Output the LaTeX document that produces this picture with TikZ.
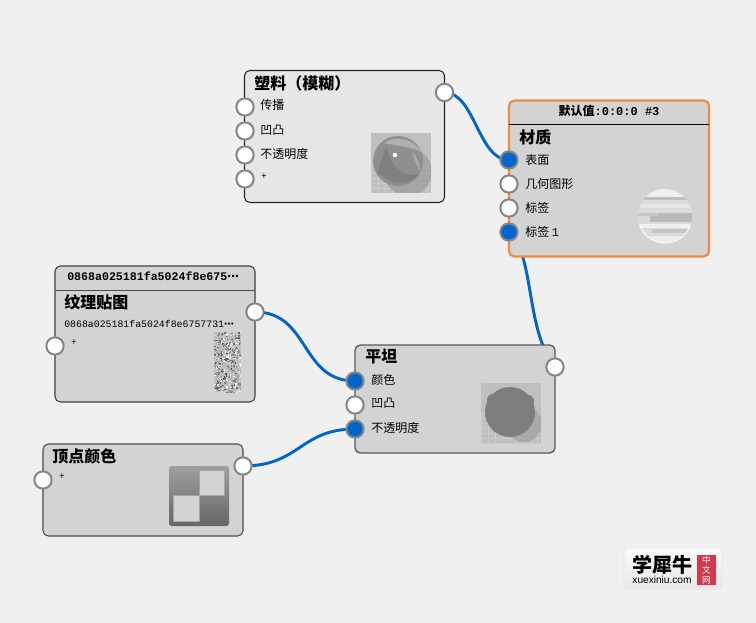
\documentclass[tikz,border=0pt]{standalone}
\usepackage{fontspec}
\setmainfont{Noto Sans CJK SC}
\newfontfamily\hdmono[BoldFont=Liberation Mono Bold]{Liberation Mono}
\newfontfamily\latsans{Liberation Sans}
\newfontfamily\dotsfont{DejaVu Sans}
\usetikzlibrary{backgrounds}
\pgfdeclarelayer{wires}
\pgfdeclarelayer{canvas}
\pgfsetlayers{canvas,wires,main}
\definecolor{wireblue}{HTML}{0066CC}
\definecolor{cardfill}{HTML}{D3D3D3}
\definecolor{cardlight}{HTML}{E6E6E6}
\definecolor{pagebg}{HTML}{F0F0F0}
\definecolor{accent}{HTML}{F08A3C}
\definecolor{logored}{HTML}{D2394D}
\definecolor{ringgray}{HTML}{858585}
\tikzset{
  card/.style={draw=#1,line width=0.8pt,fill=cardfill,rounded corners=4pt,inner sep=0pt},
  port/.style={circle,draw=ringgray,line width=1.5pt,fill=white,minimum size=13pt,inner sep=0pt},
  liveport/.style={port,fill=wireblue},
  title/.style={anchor=west,inner sep=0pt,font=\bfseries\fontsize{12}{12}\selectfont},
  lab/.style={anchor=west,inner sep=0pt,font=\fontsize{9}{9}\selectfont},
  head/.style={anchor=west,inner sep=0pt,font=\hdmono\bfseries\fontsize{8.7}{10}\selectfont},
  body/.style={anchor=west,inner sep=0pt,font=\hdmono\fontsize{7.4}{9}\selectfont},
  wire/.style={draw=wireblue,line width=2.2pt},
}
\newcommand{\mydots}{{\dotsfont\bfseries ⋯}}
\newcommand{\tilefloor}[4]{%
  \fill[gray!50] (#1,#2) rectangle (#3,#4);
  \foreach \yy in {30,35,...,60} \draw[gray!40,line width=.25pt] (#1,#2+\yy) -- (#3,#2+\yy);
  \foreach \xx in {0,7,...,60} \draw[gray!40,line width=.25pt] (#1+\xx,#2+30) -- (#1+\xx,#4);
}
\begin{document}
\begin{tikzpicture}[x=0.75pt,y=-0.75pt]
\useasboundingbox (0,0) rectangle (756,623);
\begin{pgfonlayer}{canvas}
\fill[pagebg] (0,0) rectangle (756,623);
\end{pgfonlayer}

% cards
\node[card=black!85,fill=cardlight,minimum width=150pt,minimum height=99pt] (plastic) at (344.5,136.5) {};
\node[card=accent,line width=1.6pt,minimum width=150pt,minimum height=117pt] (material) at (609,178.5) {};
\node[card=black!75,minimum width=150pt,minimum height=102pt] (texture) at (155,334) {};
\node[card=black!65,line width=1pt,minimum width=150pt,minimum height=81pt] (flat) at (455,399) {};
\node[card=black!70,minimum width=150pt,minimum height=69pt] (vertex) at (143,490) {};

% headers
\draw[black,line width=.6pt] (509,124) -- (709,124);
\draw[black!70,line width=.6pt] (55,290) -- (255,290);
\node[inner sep=0pt,font=\bfseries\fontsize{9}{10}\selectfont] (mathead) at (609,110.5) {默认值{\hdmono :0:0:0 \#3}};
\node[head] (texhead) at (67,276.5) {0868a025181fa5024f8e675\mydots};

% titles
\node[title] (t1) at (254,83) {塑料（模糊）};
\node[title] (t2) at (519,137.5) {材质};
\node[title] (t3) at (64,302.5) {纹理贴图};
\node[title] (t4) at (365,357) {平坦};
\node[title] (t5) at (52,456) {顶点颜色};

% labels
\node[lab] (l1) at (260,105) {传播};
\node[lab] (l2) at (260,130) {凹凸};
\node[lab] (l3) at (260,154) {不透明度};
\node[lab,font=\fontsize{7}{9}\selectfont] (l4) at (261,177) {+};
\node[lab] (l5) at (525,159.5) {表面};
\node[lab] (l6) at (525,183.5) {几何图形};
\node[lab] (l7) at (525,207.5) {标签};
\node[lab] (l8) at (525,231.5) {标签 {\hdmono 1}};
\node[body] (l9) at (64,324) {0868a025181fa5024f8e6757731\mydots};
\node[lab,font=\fontsize{7}{9}\selectfont] (l10) at (71,343) {+};
\node[lab] (l11) at (371,380) {颜色};
\node[lab] (l12) at (371,403.5) {凹凸};
\node[lab] (l13) at (371,427.5) {不透明度};
\node[lab,font=\fontsize{7}{9}\selectfont] (l14) at (59,477) {+};

% thumbnails
\begin{scope}
\clip (371,133) rectangle (431,193);
\tilefloor{371}{133}{431}{193}
\fill[gray!85,opacity=.6] (408,172) circle (24);
\fill[gray!105!white,gray!88] (398,161) circle (25);
\fill[gray!105,gray] (378,172) .. controls (390,186) and (408,186) .. (420,174) .. controls (405,178) and (392,170) .. (386,146) -- cycle;
\fill[gray!62] (384,143) .. controls (398,134) and (414,140) .. (421,152) .. controls (410,146) and (396,146) .. (384,143) -- cycle;
\fill[gray!65] (412,152) .. controls (418,158) and (420,164) .. (420,172) .. controls (417,166) and (414,158) .. (412,152) -- cycle;
\fill[white] (395,155) circle (2.2);
\end{scope}

\fill[gray!28] (665,216) circle (27);
\begin{scope}
\clip (665,216) circle (27);
\fill[gray!12] (638,189) rectangle (692,197);
\fill[gray!50] (642,197) rectangle (692,200);
\fill[gray!20] (640,204) rectangle (692,208);
\fill[gray!55] (650,213) rectangle (692,222);
\fill[gray!45] (638,213) rectangle (658,216);
\fill[gray!12] (638,224) rectangle (692,228);
\fill[gray!45] (652,229) rectangle (692,233);
\fill[gray!15] (638,236) rectangle (692,243);
\end{scope}
\draw[white,line width=.7pt] (665,216) ++(160:27) arc (160:20:27);

\begin{scope}
\clip (214,332) rectangle (241,392);
\fill[gray!50] (214,332) rectangle (241,392);
\pgfmathsetseed{7}
\foreach \i in {1,...,480} {
  \pgfmathsetmacro{\rx}{214+27*rnd}
  \pgfmathsetmacro{\ry}{332+60*rnd}
  \pgfmathsetmacro{\rc}{int(70*rnd)}
  \fill[black!\rc!white] (\rx,\ry) rectangle ++(1.5,1.5);
}
\end{scope}

\begin{scope}
\clip (481,383) rectangle (541,443);
\tilefloor{481}{383}{541}{443}
\fill[gray!75,opacity=.7] (524,424) circle (18);
\fill[gray!98!black] (510,412) circle (25);
\fill[gray!98!black] (493,400) circle (6);
\fill[gray!98!black] (528,401) circle (6);
\end{scope}

\shade[rounded corners=2pt,top color=gray!75,bottom color=black!60] (169,466) rectangle (229,526);
\fill[cardfill,draw=gray!70,line width=.5pt] (199,470) rectangle (224,495);
\fill[cardfill,draw=gray!70,line width=.5pt] (173,495) rectangle (199,521);

% ports
\node[port] (pa) at (245,107) {};
\node[port] (pb) at (245,131) {};
\node[port] (pc) at (245,155) {};
\node[port] (pd) at (245,179) {};
\node[port] (pout) at (444.5,92.5) {};
\node[liveport] (ma) at (509,160) {};
\node[port] (mb) at (509,184) {};
\node[port] (mc) at (509,208) {};
\node[liveport] (md) at (509,232) {};
\node[port] (tin) at (55,346) {};
\node[port] (tout) at (255,312) {};
\node[liveport] (fa) at (355,381) {};
\node[port] (fb) at (355,405) {};
\node[liveport] (fc) at (355,429) {};
\node[port] (fout) at (555,367) {};
\node[port] (vin) at (43,480) {};
\node[port] (vout) at (243,466) {};

% wires
\begin{pgfonlayer}{wires}
\draw[wire] (pout.center) .. controls (475,92.5) and (478,160) .. (ma.center);
\draw[wire] (tout.center) .. controls (310,312) and (300,381) .. (fa.center);
\draw[wire] (vout.center) .. controls (300,466) and (300,429) .. (fc.center);
\draw[wire] (md.center) .. controls (535,255) and (525,330) .. (fout.center);
\end{pgfonlayer}

% watermark
\node[draw=gray!20,top color=gray!4,bottom color=gray!18,rounded corners=3pt,minimum width=73.5pt,minimum height=31pt,inner sep=0pt] (logo) at (673,568.5) {};
\node[inner sep=0pt,font=\bfseries\fontsize{15}{15}\selectfont] (logoa) at (662,564.5) {学犀牛};
\node[inner sep=0pt,font=\latsans\fontsize{7.6}{8}\selectfont] (logob) at (662,580) {xuexiniu.com};
\node[fill=logored,text=white,minimum width=14.25pt,minimum height=22.5pt,inner sep=0pt,align=center,font=\fontsize{6.5}{7.4}\selectfont] (logoc) at (706.5,570) {中\\文\\网};
\end{tikzpicture}
\end{document}
